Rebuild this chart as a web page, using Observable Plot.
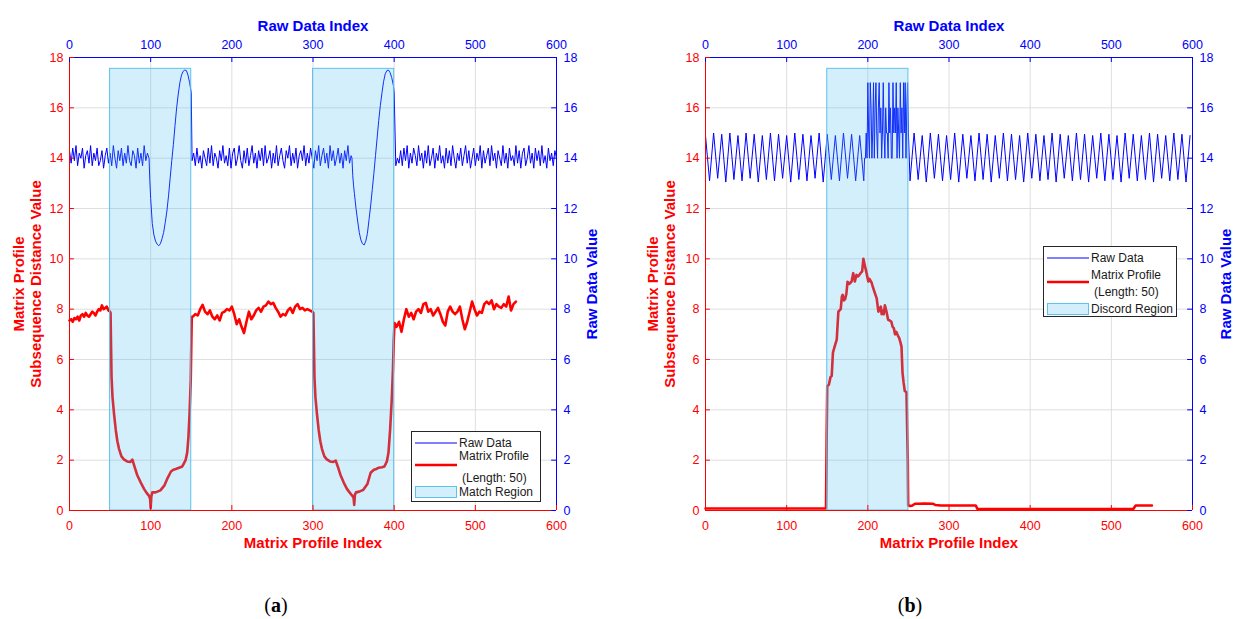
<!DOCTYPE html>
<html><head><meta charset="utf-8">
<script src="https://cdn.jsdelivr.net/npm/d3@7"></script>
<script src="https://cdn.jsdelivr.net/npm/@observablehq/plot@0.6"></script>
<style>
body{margin:0;background:#fff;}
#fig{position:relative;width:1237px;height:619px;overflow:hidden;font-family:"Liberation Sans",Arial,sans-serif;background:#fff;}
.panel{position:absolute;top:0;}
.legend{position:absolute;}
.cap{position:absolute;top:594px;font-family:"Liberation Serif","Times New Roman",serif;font-size:20px;transform:translateX(-50%);color:#000;}
</style></head>
<body>
<div id="fig">
  <div class="panel" id="pa" style="left:0px"></div>
  <div class="panel" id="pb" style="left:618px"></div>
  <div class="legend" id="la" style="left:411px;top:431px"></div>
  <div class="legend" id="lb" style="left:1043px;top:246px"></div>
  <div class="cap" style="left:276px">(<b>a</b>)</div>
  <div class="cap" style="left:910px">(<b>b</b>)</div>
</div>
<script>
// ---------- ticks ----------
const xTicks = [0, 100, 200, 300, 400, 500, 600];
const yTicks = [0, 2, 4, 6, 8, 10, 12, 14, 16, 18];

// ---------- labels ----------
const topTitle = "Raw Data Index";
const bottomTitle = "Matrix Profile Index";
const leftTitle = "Matrix Profile\nSubsequence Distance Value";
const rightTitle = "Raw Data Value";
const legendRaw = "Raw Data";
const legendMP1 = "Matrix Profile";
const legendMP2 = "(Length: 50)";
const legendRegionA = "Match Region";
const legendRegionB = "Discord Region";

// ---------- panel (a): raw data ----------
// noise, indices 0..96 step 2
const rawA_noise1 = [14.3,13.8,14.4,13.9,14.5,13.7,14.2,14.0,14.4,13.6,
  14.1,14.3,13.8,14.5,13.7,14.2,13.9,14.4,13.7,13.9,
  14.3,13.6,14.1,14.4,13.8,14.2,13.7,14.5,14.0,13.6,
  14.3,13.9,14.4,13.7,14.2,13.8,14.5,13.9,13.7,14.3,
  14.1,13.6,14.4,13.8,14.2,13.7,14.5,13.9,14.2];
const rawA_sine1_idx = [98,99,100,102,104,106,108,110,112,114,116,118,120,122,124,126,128,130,132,134,136,138,140,142,144,146,148,150];
const rawA_sine1_val = [14.0,13.1,12.4,11.4,10.95,10.7,10.58,10.52,10.6,10.8,11.05,11.45,11.9,12.5,13.2,13.9,14.55,15.3,16.0,16.55,17.0,17.3,17.45,17.5,17.48,17.3,17.0,16.6];
// noise, indices 151..347 step 2
const rawA_noise2 = [13.9,14.2,13.7,14.4,13.8,14.1,13.6,14.3,14.0,13.7,
  14.4,13.8,14.5,13.7,14.2,14.0,13.6,14.3,13.9,14.5,
  13.8,14.1,13.7,14.4,13.6,14.2,14.4,13.7,14.0,14.5,
  13.9,13.6,14.3,13.8,14.4,13.7,14.1,14.5,13.8,14.2,
  13.6,14.3,13.9,14.4,13.7,14.5,13.8,14.0,14.3,13.6,
  14.2,13.8,14.5,13.7,14.1,14.4,13.9,13.6,14.3,14.0,
  14.5,13.7,14.2,13.8,14.4,13.6,14.1,14.3,13.9,14.5,
  13.7,14.2,13.8,14.4,14.0,13.6,14.3,13.9,14.5,13.7,
  14.1,14.4,13.8,14.2,13.6,14.5,13.9,14.3,13.7,14.0,
  14.4,13.8,14.2,13.6,14.3,13.9,14.5,13.8,14.1];
const rawA_sine2_idx = [348,349,350,351,353,355,357,359,361,363,365,367,369,371,373,375,377,379,381,383,385,387,389,391,393,395,397,399,400];
const rawA_sine2_val = [14.0,13.3,12.9,12.6,12.0,11.5,11.05,10.75,10.6,10.55,10.7,11.0,11.55,12.1,12.75,13.4,14.1,14.8,15.5,16.1,16.6,17.05,17.35,17.48,17.5,17.4,17.2,16.9,16.6];
// noise, indices 402..600 step 2
const rawA_noise3 = [13.7,14.0,13.8,14.3,13.7,14.4,13.9,14.5,13.6,14.2,
  13.8,14.4,14.1,13.7,14.5,13.9,14.2,13.6,14.3,13.8,
  14.5,13.7,14.0,14.4,13.6,14.2,13.9,14.5,13.8,14.1,
  13.6,14.4,13.8,14.3,13.7,14.5,14.0,13.6,14.2,13.9,
  14.4,13.7,14.1,14.5,13.8,14.3,13.6,14.0,14.4,13.7,
  14.2,13.9,14.5,13.6,14.3,13.8,14.1,14.4,13.7,14.5,
  13.9,14.2,13.6,14.3,14.0,13.7,14.5,13.8,14.2,13.6,
  14.4,13.9,14.1,13.7,14.5,13.8,14.3,13.6,14.2,14.4,
  13.7,14.0,14.5,13.8,14.2,13.6,14.4,13.9,14.3,13.7,
  14.5,13.8,14.1,13.6,14.4,13.9,14.2,13.7,14.3,14.0];

// ---------- panel (a): matrix profile ----------
// indices 0..50 step 2
const mpA_noise1 = [7.55,7.6,7.5,7.65,7.6,7.7,7.55,7.75,7.8,7.7,7.85,7.75,7.7,7.8,7.9,7.85,7.75,7.9,8.0,7.95,8.15,8.0,8.05,8.1,7.95,7.9];
const mpA_drop1_idx = [50.6,51.2,51.8,53,55,57,59,61,64,67,71,75,77.5,80,83.5,88,92,95,98,99.3,100,100.8,102,106,112,117,121,125,128,131,135,139,143,145,146.5,148,149.4,150,150.6];
const mpA_drop1_val = [7.85,6.5,5.3,4.5,3.8,3.2,2.75,2.45,2.15,2.03,1.95,1.93,2.02,1.75,1.4,1.1,0.85,0.7,0.58,0.45,0.1,0.55,0.72,0.72,0.8,1.0,1.3,1.55,1.62,1.65,1.7,1.75,2.0,2.3,2.9,3.9,5.2,6.5,7.7];
// indices 152..299 step 3
const mpA_noise2 = [7.7,7.8,7.75,8.0,8.17,7.9,7.8,7.95,7.7,7.6,
  7.75,7.55,7.85,7.9,8.0,7.95,8.1,7.8,7.4,7.6,
  7.3,7.05,7.5,7.9,7.6,7.75,7.95,8.05,7.9,8.1,
  8.15,8.3,8.2,8.25,8.05,7.9,7.7,7.8,7.75,7.95,
  8.05,7.85,8.1,8.2,8.0,8.05,7.95,8.0,7.95,7.9];
const mpA_drop2_idx = [300.5,301.2,301.8,303,305,307,309,311,314,317,321,325,328,330.5,334,338,342,345.5,348.5,350,350.8,351.6,353,357,362,367,371,375,378,381,385,388,391,393,395,397,398.5,399.5,400.5];
const mpA_drop2_val = [7.85,6.5,5.3,4.5,3.8,3.2,2.75,2.45,2.15,2.03,1.95,1.93,1.98,1.75,1.4,1.1,0.85,0.7,0.58,0.5,0.22,0.62,0.72,0.75,0.82,1.05,1.5,1.62,1.65,1.7,1.72,1.75,1.95,2.3,3.2,4.4,5.6,6.8,7.45];
// indices 403..550 step 3
const mpA_noise3 = [7.3,7.5,7.1,7.6,8.0,7.7,7.85,7.6,7.9,8.0,
  7.85,8.2,8.25,7.9,8.0,7.75,7.9,8.05,7.8,7.5,
  7.35,7.9,8.1,7.9,7.8,7.9,8.1,7.6,7.2,7.5,
  7.9,8.3,8.0,7.75,7.9,7.85,8.2,8.3,8.2,8.35,
  8.0,8.2,8.1,8.05,8.2,8.1,8.5,7.95,8.2,8.3];

// ---------- panel (b): raw data ----------
// peaks / troughs, indices 0..190 step 5
const rawB_osc1 = [14.9,13.1,15.0,13.2,14.95,13.05,15.0,13.15,14.9,13.1,
  15.0,13.2,14.95,13.05,14.9,13.15,15.0,13.1,14.95,13.2,
  14.9,13.05,15.0,13.15,14.95,13.1,14.9,13.2,15.0,13.05,
  14.95,13.15,14.9,13.1,15.0,13.2,14.95,13.1,14.9];
// discord, indices 195..250 step 1
const rawB_disc = [13.1,14.0,14.0,15.0,14.0,17.0,15.0,14.0,17.0,16.0,
  14.0,15.0,17.0,14.0,16.0,17.0,15.0,14.0,16.0,17.0,
  15.0,16.0,14.0,15.0,17.0,15.0,14.0,16.0,15.0,15.0,
  14.0,17.0,15.0,16.0,14.0,14.0,17.0,15.0,16.0,15.0,
  17.0,14.0,16.0,15.0,14.0,17.0,15.0,16.0,14.0,17.0,
  15.0,17.0,14.0,16.0,17.0,15.0];
// peaks / troughs, indices 252..597 step 5
const rawB_osc2 = [13.1,15.0,13.15,14.9,13.05,15.0,13.2,14.95,13.1,14.9,
  13.15,15.0,13.05,14.95,13.2,14.9,13.1,15.0,13.15,14.95,
  13.05,14.9,13.2,15.0,13.1,14.95,13.15,14.9,13.05,15.0,
  13.2,14.95,13.1,14.9,13.15,15.0,13.05,14.95,13.2,14.9,
  13.1,15.0,13.15,14.95,13.05,14.9,13.2,15.0,13.1,14.95,
  13.15,14.9,13.05,15.0,13.2,14.95,13.1,14.9,13.15,15.0,
  13.05,14.95,13.2,14.9,13.1,15.0,13.15,14.95,13.05,14.9];

// ---------- panel (b): matrix profile ----------
const mpB_idx = [0,148.5,149.3,150,152,154,155.5,157,159,161.7,
  163.7,166.6,168,169,170.5,172,173.5,175,177,180,
  182,184,186,188,191,193,194.5,196.5,198,200.6,
  202,204.7,206,208.8,210.9,213,214.5,216,217,218,
  219.5,221,223,225,227,229,230.5,232,233.5,235,
  237,238.6,240,241.5,242.7,244,245.5,247.6,249.2,249.7,
  252,255,258,262,270,280,283,290,300,333,
  335,400,527,530,550];
const mpB_val = [0.08,0.08,3.0,4.95,5.0,5.3,5.35,6.27,6.5,6.79,
  7.9,8.0,8.5,8.57,8.35,8.4,8.6,9.09,9.0,9.1,
  9.43,9.1,9.36,9.3,9.43,9.5,10.0,9.7,9.5,9.1,
  9.2,9.05,8.9,8.63,8.43,7.9,8.0,8.1,7.8,7.95,
  7.8,8.15,7.9,7.58,7.55,7.5,7.3,7.25,7.0,7.1,
  6.95,6.86,6.7,6.5,5.48,5.1,4.75,4.7,2.0,0.21,
  0.18,0.2,0.27,0.27,0.28,0.27,0.22,0.2,0.2,0.2,
  0.06,0.06,0.06,0.2,0.2];

// ---------- regions ----------
const regionA_start = [50, 300];
const regionA_end = [150, 400];
const regionB_start = [150];
const regionB_end = [250];
const regionTop = 17.55;

// ---------- helpers ----------
const stepSeries = (start, step, vals) => vals.map((v, i) => ({x: start + i * step, y: v}));
const pairSeries = (xs, ys) => xs.map((x, i) => ({x, y: ys[i]}));

const rawA = [
  ...stepSeries(0, 2, rawA_noise1),
  ...pairSeries(rawA_sine1_idx, rawA_sine1_val),
  ...stepSeries(151, 2, rawA_noise2),
  ...pairSeries(rawA_sine2_idx, rawA_sine2_val),
  ...stepSeries(402, 2, rawA_noise3)
];
const mpA = [
  ...stepSeries(0, 2, mpA_noise1),
  ...pairSeries(mpA_drop1_idx, mpA_drop1_val),
  ...stepSeries(152, 3, mpA_noise2),
  ...pairSeries(mpA_drop2_idx, mpA_drop2_val),
  ...stepSeries(403, 3, mpA_noise3)
];
const rawB = [
  ...stepSeries(0, 5, rawB_osc1),
  ...stepSeries(195, 1, rawB_disc),
  ...stepSeries(252, 5, rawB_osc2)
];
const mpB = pairSeries(mpB_idx, mpB_val);
const regionsA = regionA_start.map((s, i) => ({x1: s, x2: regionA_end[i], y1: 0, y2: regionTop}));
const regionsB = regionB_start.map((s, i) => ({x1: s, x2: regionB_end[i], y1: 0, y2: regionTop}));

const RED = "#ff0000", BLUE = "#0000ff", GRID = "#dedede";
const REGION_FILL = "#4DBEEE", REGION_EDGE = "#5cc3ef";

function panel({raw, mp, regions, marginLeft, marginRight, width, leftDx, rightDx}) {
  return Plot.plot({
    width, height: 560,
    marginTop: 57, marginBottom: 50, marginLeft, marginRight,
    x: {domain: [0, 600]},
    y: {domain: [0, 18]},
    style: {fontFamily: "'Liberation Sans', Arial, sans-serif", fontSize: "12.5px", background: "transparent", overflow: "visible"},
    marks: [
      Plot.gridX(xTicks, {stroke: GRID, strokeOpacity: 1}),
      Plot.gridY(yTicks, {stroke: GRID, strokeOpacity: 1}),
      Plot.line(mp, {x: "x", y: "y", stroke: RED, strokeWidth: 2.6, strokeLinejoin: "round"}),
      Plot.line(raw, {x: "x", y: "y", stroke: BLUE, strokeWidth: 1}),
      Plot.rect(regions, {x1: "x1", x2: "x2", y1: "y1", y2: "y2", fill: REGION_FILL, fillOpacity: 0.25, stroke: REGION_EDGE, strokeWidth: 1}),
      // frame
      Plot.ruleX([0], {stroke: RED}),
      Plot.ruleX([600], {stroke: BLUE}),
      Plot.ruleY([0], {stroke: RED}),
      Plot.ruleY([18], {stroke: BLUE}),
      // inward ticks
      Plot.ruleX(xTicks, {y1: 0, y2: 0.2, stroke: RED}),
      Plot.ruleX(xTicks, {y1: 18, y2: 17.8, stroke: BLUE}),
      Plot.ruleY(yTicks, {x1: 0, x2: 6, stroke: RED}),
      Plot.ruleY(yTicks, {x1: 600, x2: 594, stroke: BLUE}),
      // axes
      Plot.axisX(xTicks, {anchor: "bottom", tickSize: 0, tickPadding: 11, color: RED, label: null}),
      Plot.axisX(xTicks, {anchor: "top", tickSize: 0, tickPadding: 9, color: BLUE, label: null}),
      Plot.axisY(yTicks, {anchor: "left", tickSize: 0, tickPadding: 6, color: RED, label: null}),
      Plot.axisY(yTicks, {anchor: "right", tickSize: 0, tickPadding: 7, color: BLUE, label: null}),
      // titles
      Plot.text([topTitle], {text: d => d, frameAnchor: "top", dy: -37, fill: BLUE, fontWeight: "bold", fontSize: 15}),
      Plot.text([bottomTitle], {text: d => d, frameAnchor: "bottom", dy: 37, fill: RED, fontWeight: "bold", fontSize: 15}),
      Plot.text([leftTitle], {text: d => d, frameAnchor: "left", textAnchor: "middle", lineAnchor: "middle", rotate: -90, dx: leftDx, fill: RED, fontWeight: "bold", fontSize: 15, lineHeight: 1.13}),
      Plot.text([rightTitle], {text: d => d, frameAnchor: "right", textAnchor: "middle", lineAnchor: "middle", rotate: -90, dx: rightDx, fill: BLUE, fontWeight: "bold", fontSize: 15})
    ]
  });
}

document.getElementById("pa").append(panel({raw: rawA, mp: mpA, regions: regionsA, marginLeft: 69, marginRight: 62, width: 618, leftDx: -42.5, rightDx: 35.5}));
document.getElementById("pb").append(panel({raw: rawB, mp: mpB, regions: regionsB, marginLeft: 87, marginRight: 45, width: 619, leftDx: -44, rightDx: 34}));

function legendSVG(regionLabel, w, rows) {
  const h = 71;
  const ns = "http://www.w3.org/2000/svg";
  const svg = d3.create("svg").attr("xmlns", ns).attr("width", w).attr("height", h)
    .style("font-family", "'Liberation Sans', Arial, sans-serif").style("font-size", "12px").style("display", "block");
  svg.append("rect").attr("x", 0.5).attr("y", 0.5).attr("width", w - 1).attr("height", h - 1).attr("fill", "#fff").attr("stroke", "#262626").attr("stroke-width", 1);
  svg.append("line").attr("x1", 4).attr("x2", 46).attr("y1", rows.raw).attr("y2", rows.raw).attr("stroke", BLUE).attr("stroke-width", 1);
  svg.append("line").attr("x1", 4).attr("x2", 46).attr("y1", rows.mpLine).attr("y2", rows.mpLine).attr("stroke", RED).attr("stroke-width", 2.6);
  svg.append("rect").attr("x", 4.5).attr("y", rows.patch - 5.5).attr("width", 41).attr("height", 11).attr("fill", REGION_FILL).attr("fill-opacity", 0.25).attr("stroke", REGION_EDGE);
  const t = (y, x, s) => svg.append("text").attr("x", x).attr("y", y).attr("dy", "0.35em").attr("fill", "#1a1a1a").text(s);
  t(rows.raw, 48, legendRaw);
  t(rows.mp1, 48, legendMP1);
  t(rows.mp2, 51, legendMP2);
  t(rows.patch, 48, regionLabel);
  return svg.node();
}
document.getElementById("la").append(legendSVG(legendRegionA, 130, {raw: 12, mp1: 25, mpLine: 34, mp2: 47, patch: 61}));
document.getElementById("lb").append(legendSVG(legendRegionB, 134, {raw: 12, mp1: 29, mpLine: 36, mp2: 46, patch: 63}));
</script>
</body></html>
